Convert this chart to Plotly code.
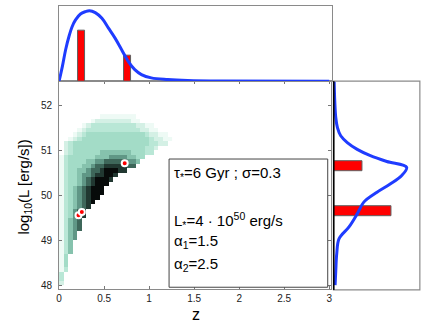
import plotly.graph_objects as go

W, H = 436, 328

# ---------------- data ----------------
Z_CENTERS = [0.025, 0.075, 0.125, 0.175, 0.225, 0.275, 0.325, 0.375, 0.425, 0.475,
             0.525, 0.575, 0.625, 0.675, 0.725, 0.775, 0.825, 0.875, 0.925, 0.975,
             1.025, 1.075, 1.125, 1.175, 1.225]
L_CENTERS = [48.05, 48.15, 48.25, 48.35, 48.45, 48.55, 48.65, 48.75, 48.85, 48.95,
             49.05, 49.15, 49.25, 49.35, 49.45, 49.55, 49.65, 49.75, 49.85, 49.95,
             50.05, 50.15, 50.25, 50.35, 50.45, 50.55, 50.65, 50.75, 50.85, 50.95,
             51.05, 51.15, 51.25, 51.35, 51.45, 51.55, 51.65, 51.75]
# first occupied column of each row, and the shade levels (1 light .. 9 black)
ROW_START = [0, 0, 0, 0, 0, 0, 0, 0, 0, 0,
             0, 0, 0, 0, 0, 0, 0, 0, 0, 0,
             0, 0, 0, 0, 0, 0, 0, 0, 0, 1,
             1, 1, 2, 3, 4, 5, 7, 9]
ROW_LEVELS = [
    "2", "3", "3", "13", "14", "14", "14", "135", "135", "135",
    "1356", "1356", "13567", "13567", "13567", "134678", "134678", "1345678",
    "13456789", "134567899", "1345678999", "1345678999", "13445678999",
    "134456789998", "1344566788998", "134455677899988", "13444556778888877",
    "134444556677777665", "1344444455566665544", "23444444555555544433",
    "234444444444444444332", "23444444444444444443322",
    "12344444444444444432211", "123444444444444432211",
    "123333333333332211", "1233333333332211", "12222222211", "11111111",
]

GRB_Z = [0.216, 0.253, 0.729]
GRB_L = [49.56, 49.63, 50.71]

TOP_Z = [0.0, 0.037, 0.073, 0.11, 0.146, 0.183, 0.238, 0.293, 0.337, 0.402, 0.476,
         0.549, 0.622, 0.695, 0.768, 0.841, 0.915, 1.024, 1.207, 1.427, 1.8, 3.0]
TOP_PDF = [0.0, 0.197, 0.417, 0.592, 0.724, 0.811, 0.89, 0.921, 0.934, 0.908, 0.833,
           0.702, 0.57, 0.417, 0.263, 0.153, 0.088, 0.044, 0.022, 0.009, 0.002, 0.0]
TOP_BAR_Z = [0.25, 0.76]
TOP_BAR_H = [0.667, 0.333]

RIGHT_L = [48.01, 48.34, 48.71, 49.04, 49.3, 49.59, 49.85, 50.07, 50.25, 50.44,
           50.62, 50.75, 50.88, 51.02, 51.17, 51.32, 51.5, 51.72, 52.09, 52.53]
RIGHT_PDF = [0.019, 0.027, 0.038, 0.065, 0.18, 0.275, 0.351, 0.504, 0.656, 0.79,
             0.847, 0.618, 0.427, 0.275, 0.16, 0.084, 0.046, 0.027, 0.015, 0.008]
RIGHT_BAR_L = [50.64, 49.64]
RIGHT_BAR_W = [0.333, 0.667]

X_TICKS = [0, 0.5, 1, 1.5, 2, 2.5, 3]
X_TICKTEXT = ["0", "0.5", "1", "1.5", "2", "2.5", "3"]
Y_TICKS = [48, 49, 50, 51, 52]
Y_TICKTEXT = ["48", "49", "50", "51", "52"]

TEXT_LINES = ["τ<sub>*</sub>=6 Gyr ; σ=0.3",
              "L<sub>*</sub>=4 · 10<sup>50</sup> erg/s",
              "α<sub>1</sub>=1.5",
              "α<sub>2</sub>=2.5"]

# ---------------- helpers ----------------
def fx(px):
    return px / W

def fy(py):
    return 1 - py / H

FONT = "Liberation Sans, Arial, sans-serif"
BLUE = "#1f3cff"
RED = "#ff0000"

# build heat matrix
zmat = []
for s, lev in zip(ROW_START, ROW_LEVELS):
    row = [None] * len(Z_CENTERS)
    for k, ch in enumerate(lev):
        if s + k < len(row):
            row[s + k] = int(ch)
    zmat.append(row)

colorscale = [
    [0.0, "#eefaf5"],
    [0.125, "#d4f0e5"],
    [0.25, "#b9e7d6"],
    [0.375, "#a3dcc7"],
    [0.5, "#86c2ad"],
    [0.625, "#609786"],
    [0.75, "#3e675a"],
    [0.875, "#213831"],
    [1.0, "#070b0a"],
]

fig = go.Figure()

fig.add_trace(go.Heatmap(x=Z_CENTERS, y=L_CENTERS, z=zmat, zmin=1, zmax=9,
                         colorscale=colorscale, showscale=False, hoverinfo="skip",
                         xaxis="x", yaxis="y"))
fig.add_trace(go.Scatter(x=GRB_Z, y=GRB_L, mode="markers",
                         marker=dict(color=RED, size=6, line=dict(color="white", width=2)),
                         xaxis="x", yaxis="y", showlegend=False))

# top marginal
fig.add_trace(go.Bar(x=TOP_BAR_Z, y=TOP_BAR_H, width=0.075,
                     marker=dict(color=RED, line=dict(color="#606060", width=1)),
                     xaxis="x2", yaxis="y2", showlegend=False))
fig.add_trace(go.Scatter(x=TOP_Z, y=TOP_PDF, mode="lines", line=dict(color=BLUE, width=3, shape="spline"),
                         xaxis="x2", yaxis="y2", showlegend=False))

# right marginal
fig.add_trace(go.Bar(y=RIGHT_BAR_L, x=RIGHT_BAR_W, width=0.22, orientation="h",
                     marker=dict(color=RED, line=dict(color="#606060", width=1)),
                     xaxis="x3", yaxis="y3", showlegend=False))
fig.add_trace(go.Scatter(x=RIGHT_PDF, y=RIGHT_L, mode="lines", line=dict(color=BLUE, width=3, shape="spline"),
                         xaxis="x3", yaxis="y3", showlegend=False))

main_x0, main_x1 = 56.7, 331.5
main_y0, main_y1 = 81.7, 291.0
y_range = [47.92, 52.53]
x_range = [0, 3 * (main_x1 - main_x0) / (330.0 - main_x0)]

axis_common = dict(showgrid=False, zeroline=False)

fig.update_layout(
    width=W, height=H,
    margin=dict(l=0, r=0, t=0, b=0),
    paper_bgcolor="white", plot_bgcolor="white",
    font=dict(family=FONT, color="#222222", size=10),
    showlegend=False,
    bargap=0,
    xaxis=dict(domain=[fx(main_x0), fx(main_x1)], range=x_range, anchor="y",
               tickmode="array", tickvals=X_TICKS, ticktext=X_TICKTEXT,
               ticks="inside", ticklen=3, tickcolor="#777777", tickwidth=1,
               showline=True, linecolor="#8a8a8a", linewidth=1, mirror="ticks",
               tickfont=dict(size=10, color="#222222"), **axis_common),
    yaxis=dict(domain=[fy(main_y1), fy(main_y0)], range=y_range, anchor="x",
               tickmode="array", tickvals=Y_TICKS, ticktext=Y_TICKTEXT,
               ticks="inside", ticklen=3, tickcolor="#777777", tickwidth=1,
               showline=True, linecolor="#8a8a8a", linewidth=1, mirror="ticks",
               tickfont=dict(size=10, color="#222222"), ticklabelstandoff=4, **axis_common),
    xaxis2=dict(domain=[fx(main_x0), fx(333.3)], range=[0, 3 * (333.3 - main_x0) / (330.0 - main_x0)],
                anchor="y2", showticklabels=False, ticks="",
                showline=True, linecolor="#8a8a8a", linewidth=1, mirror=True, **axis_common),
    yaxis2=dict(domain=[fy(main_y0), fy(5.7)], range=[0, 1.0], anchor="x2",
                showticklabels=False, ticks="",
                showline=True, linecolor="#8a8a8a", linewidth=1, mirror=True, **axis_common),
    xaxis3=dict(domain=[fx(334.3), fx(421.7)], range=[0, 1.0], anchor="y3",
                showticklabels=False, ticks="", showline=False, **axis_common),
    yaxis3=dict(domain=[fy(291.7), fy(main_y0)], range=[y_range[0] - (291.7 - main_y1) / 45.4, y_range[1]],
                anchor="x3", showticklabels=False, ticks="", showline=False, **axis_common),
)

shapes = []
# right panel frame (grey) and black left spine
shapes.append(dict(type="rect", xref="paper", yref="paper",
                   x0=fx(334.3), x1=fx(421.7), y0=fy(291.7), y1=fy(main_y0),
                   line=dict(color="#8a8a8a", width=1.2), fillcolor="rgba(0,0,0,0)"))
shapes.append(dict(type="line", xref="paper", yref="paper",
                   x0=fx(334.6), x1=fx(334.6), y0=fy(291.7), y1=fy(main_y0),
                   line=dict(color="black", width=1.6)))
# text box
shapes.append(dict(type="rect", xref="paper", yref="paper",
                   x0=fx(168), x1=fx(328.5), y0=fy(289), y1=fy(160),
                   line=dict(color="#444444", width=1), fillcolor="white"))
fig.update_layout(shapes=shapes)

annotations = []
line_y = [175, 221.7, 243.3, 266]
for txt, py in zip(TEXT_LINES, line_y):
    annotations.append(dict(text=txt, xref="paper", yref="paper", x=fx(171), y=fy(py),
                            xanchor="left", yanchor="middle", showarrow=False,
                            font=dict(family=FONT, size=15, color="black")))
annotations.append(dict(text="z", xref="paper", yref="paper", x=fx(195), y=fy(316.5),
                        xanchor="center", yanchor="middle", showarrow=False,
                        font=dict(family=FONT, size=16, color="black")))
annotations.append(dict(text="log<sub>10</sub>(L [erg/s])", xref="paper", yref="paper",
                        x=fx(22), y=fy(188), textangle=-90,
                        xanchor="center", yanchor="middle", showarrow=False,
                        font=dict(family=FONT, size=15, color="black")))
fig.update_layout(annotations=annotations)

fig.write_html("out.html",
               config={"displayModeBar": False},
               post_script="document.body.style.margin='0';document.body.style.padding='0';")
